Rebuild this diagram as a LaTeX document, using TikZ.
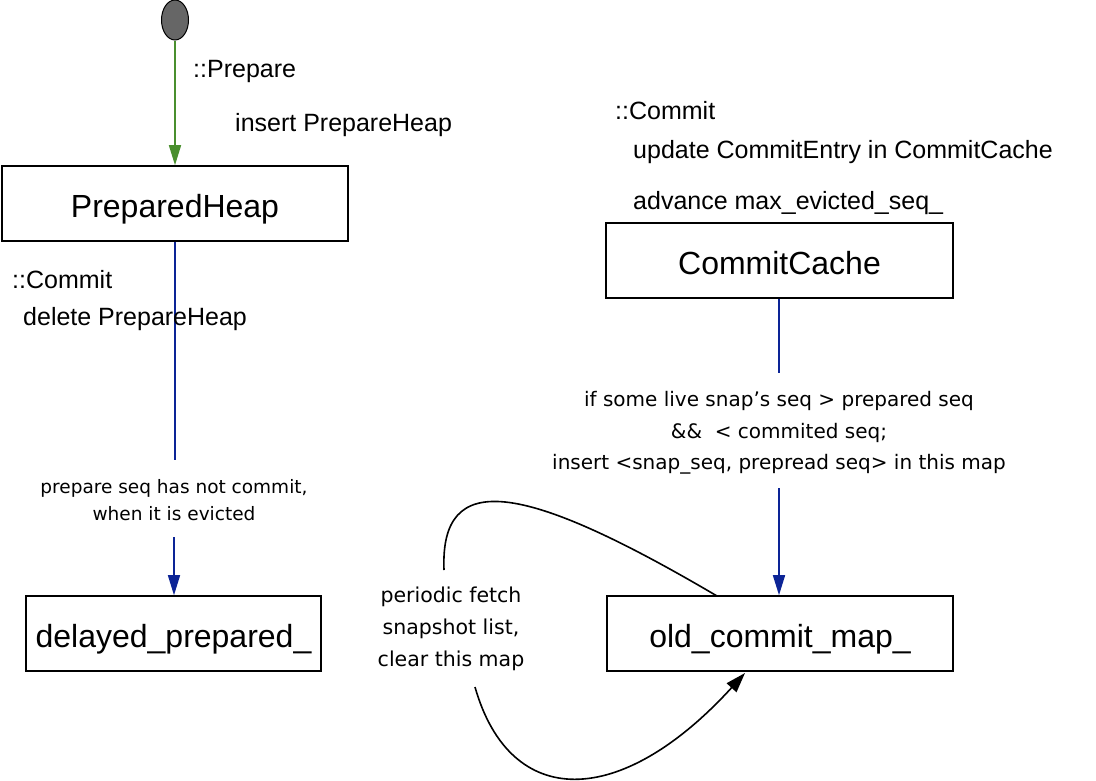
\documentclass[tikz,border=0pt]{standalone}
\usepackage{fontspec}
\setmainfont{Liberation Sans}
\newfontfamily\lblfont{DejaVu Sans}
\usetikzlibrary{arrows.meta,shapes.geometric}
\definecolor{grn}{RGB}{74,143,46}
\definecolor{blu}{RGB}{12,36,150}
\definecolor{startgray}{RGB}{102,102,102}
\tikzset{
  box/.style={draw=black,line width=1.6pt,minimum width=#1,minimum height=75pt,inner sep=0pt,text height=28pt,text depth=0pt,font=\fontsize{32}{36}\selectfont},
  lbl/.style={anchor=base west,inner sep=0pt,font=\fontsize{25}{28}\selectfont},
  slbl/.style={align=center,inner sep=0pt},
  gline/.style={draw=grn,line width=1.6pt,-{Triangle[length=20pt,width=12pt]}},
  bline/.style={draw=blu,line width=1.6pt},
  barrow/.style={draw=blu,line width=1.6pt,-{Triangle[length=20pt,width=12pt]}},
  karrow/.style={draw=black,line width=1.6pt,-{Triangle[length=20pt,width=13pt]}},
}
\begin{document}
\begin{tikzpicture}[x=1pt,y=-1pt]
\useasboundingbox (0,0) rectangle (1096,780);
% start
\node[ellipse,draw=black,line width=1pt,fill=startgray,minimum width=27pt,minimum height=40pt,inner sep=0pt] (start) at (175,20) {};
% boxes
\node[box=346pt] (heap) at (175,203.5) {PreparedHeap};
\node[box=295pt] (delayed) at (173.5,633.5) {delayed\_prepared\_};
\node[box=347pt] (cache) at (779.5,260.5) {CommitCache};
\node[box=346pt] (old) at (780,633.5) {old\_commit\_map\_};
% green arrow
\draw[gline] (start) -- (heap.north -| start);
\node[lbl] (prep) at (193,77) {::Prepare};
\node[lbl] (ins) at (235,131) {insert PrepareHeap};
% left blue
\coordinate (b1) at (175,460);
\coordinate (b2) at (174,537);
\draw[bline] (heap.south -| b1) -- (b1);
\node[slbl,font=\lblfont\fontsize{18.5}{27}\selectfont] (evict) at (174,500) {prepare seq has not commit,\\when it is evicted};
\draw[barrow] (b2) -- (delayed.north -| b2);
\node[lbl] (lc1) at (12,288) {::Commit};
\node[lbl] (lc2) at (23,325) {delete PrepareHeap};
% right
\node[lbl] (rc1) at (615,119) {::Commit};
\node[lbl] (rc2) at (633,158) {update CommitEntry in CommitCache};
\node[lbl] (rc3) at (633,209) {advance max\_evicted\_seq\_};
\coordinate (c1) at (779,373);
\coordinate (c2) at (779,488);
\draw[bline] (cache.south -| c1) -- (c1);
\node[slbl,font=\lblfont\fontsize{20}{31.5}\selectfont] (cond) at (779,433) {if some live snap’s seq > prepared seq\\\&\&~~< commited seq;\\insert <snap\_seq, prepread seq> in this map};
\draw[barrow] (c2) -- (old.north -| c2);
% loop
\coordinate (l1) at (717,596);
\coordinate (l2) at (444,570);
\coordinate (l3) at (475,687);
\coordinate (l4) at (745,673);
\draw[line width=1.6pt] (l1) .. controls (520,480) and (440,470) .. (l2);
\draw[karrow] (l3) .. controls (510,810) and (620,810) .. (l4);
\node[slbl,font=\lblfont\fontsize{20.5}{32}\selectfont] (per) at (451,629) {periodic fetch\\snapshot list,\\clear this map};
\end{tikzpicture}
\end{document}
